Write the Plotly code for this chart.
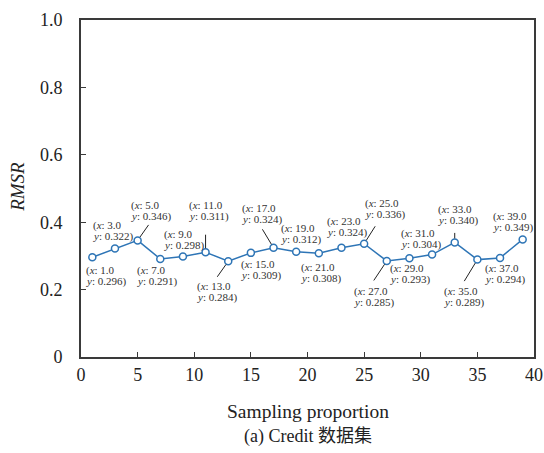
import plotly.graph_objects as go

# Data
sampling_proportion = [1, 3, 5, 7, 9, 11, 13, 15, 17, 19, 21, 23, 25, 27, 29, 31, 33, 35, 37, 39]
rmsr = [0.296, 0.322, 0.346, 0.291, 0.298, 0.311, 0.284, 0.309, 0.324, 0.312,
        0.308, 0.324, 0.336, 0.285, 0.293, 0.304, 0.340, 0.289, 0.294, 0.349]
x_ticks = [0, 5, 10, 15, 20, 25, 30, 35, 40]
y_ticks = [0, 0.2, 0.4, 0.6, 0.8, 1.0]

# Label placement: (left-edge dx, vertical centre dy of the two-line label) in pixels,
# measured from the data point (screen y grows downward)
label_pos = [
    (-7, 19), (-23, -17), (-8, -29), (-24, 17), (-20, -17),
    (-18, -41), (-32, 31), (-11, 17), (-33, -34), (-16, -18),
    (-19, 20), (-15, -21), (0, -35), (-34, 36), (-20, 16),
    (-32, -16), (-18, -27), (-34, 37), (-16, 16), (-31, -17),
]
# Leader lines: point index -> end offset (dx, dy) in pixels
leaders = {5: (12, -17), 11: (0, -19), 13: (-12, 17), 17: (-12, -20),
           25: (12, -19), 27: (-14, 21), 33: (0, -11), 35: (-14, 23)}

SERIF = "Liberation Serif"
LINE_BLUE = "#2e75b6"
AX = "#3a3a3a"
LBL = "#333333"
LINE_GAP = 11

fig = go.Figure()
fig.add_trace(go.Scatter(
    x=sampling_proportion, y=rmsr, mode="lines+markers",
    line=dict(color=LINE_BLUE, width=1.5),
    marker=dict(symbol="circle", size=7, color="white",
                line=dict(color=LINE_BLUE, width=1.5)),
    showlegend=False, hoverinfo="skip",
))

annotations = []
for xv, yv, (dx, dy) in zip(sampling_proportion, rmsr, label_pos):
    for k, txt in enumerate([f"(<i>x</i>: {xv:.1f}", f"<i>y</i>: {yv:.3f})"]):
        off = dy - LINE_GAP / 2 + k * LINE_GAP
        annotations.append(dict(
            x=xv, y=yv, xref="x", yref="y", text=txt, showarrow=False,
            xanchor="left", yanchor="middle", xshift=dx, yshift=-off,
            font=dict(family=SERIF, size=11, color=LBL), borderpad=0,
        ))
    if xv in leaders:
        ex, ey = leaders[xv]
        annotations.append(dict(
            x=xv, y=yv, xref="x", yref="y", text="",
            showarrow=True, arrowhead=0, arrowwidth=1, arrowcolor="#222222",
            standoff=4, ax=ex, ay=ey, axref="pixel", ayref="pixel",
        ))

annotations.append(dict(
    text="Sampling proportion", xref="paper", yref="paper", x=0.5, y=-0.161,
    showarrow=False, xanchor="center", yanchor="middle",
    font=dict(family=SERIF, size=19.5, color="#222222"),
))
annotations.append(dict(
    text="(a) Credit 数据集", xref="paper", yref="paper", x=0.5, y=-0.236,
    showarrow=False, xanchor="center", yanchor="middle",
    font=dict(family="Liberation Serif, Noto Sans CJK SC", size=18, color="#222222"),
))
annotations.append(dict(
    text="<i>RMSR</i>", xref="paper", yref="paper", x=-0.139, y=0.505,
    showarrow=False, xanchor="center", yanchor="middle", textangle=-90,
    font=dict(family=SERIF, size=19, color="#222222"),
))

fig.update_layout(
    width=544, height=453,
    margin=dict(l=81, r=10, t=20, b=96),
    paper_bgcolor="white", plot_bgcolor="white",
    annotations=annotations,
    font=dict(family=SERIF),
    xaxis=dict(
        range=[0, 40], tickvals=x_ticks, ticktext=[str(v) for v in x_ticks],
        ticks="inside", ticklen=5, tickcolor=AX, tickwidth=1,
        showline=True, linecolor=AX, linewidth=1.6, mirror=True,
        showgrid=False, zeroline=False, ticklabelstandoff=1, automargin=False,
        tickfont=dict(family=SERIF, size=18, color="#222222"),
    ),
    yaxis=dict(
        range=[0, 1.0], tickvals=y_ticks, ticktext=[f"{v:.1f}" if v else "0" for v in y_ticks],
        ticks="inside", ticklen=5, tickcolor=AX, tickwidth=1,
        showline=True, linecolor=AX, linewidth=1.6, mirror=True,
        showgrid=False, zeroline=False, ticklabelstandoff=13, automargin=False,
        tickfont=dict(family=SERIF, size=18, color="#222222"),
    ),
)

fig.write_html("out.html", config={"displayModeBar": False},
               post_script="document.body.style.margin='0px';")
